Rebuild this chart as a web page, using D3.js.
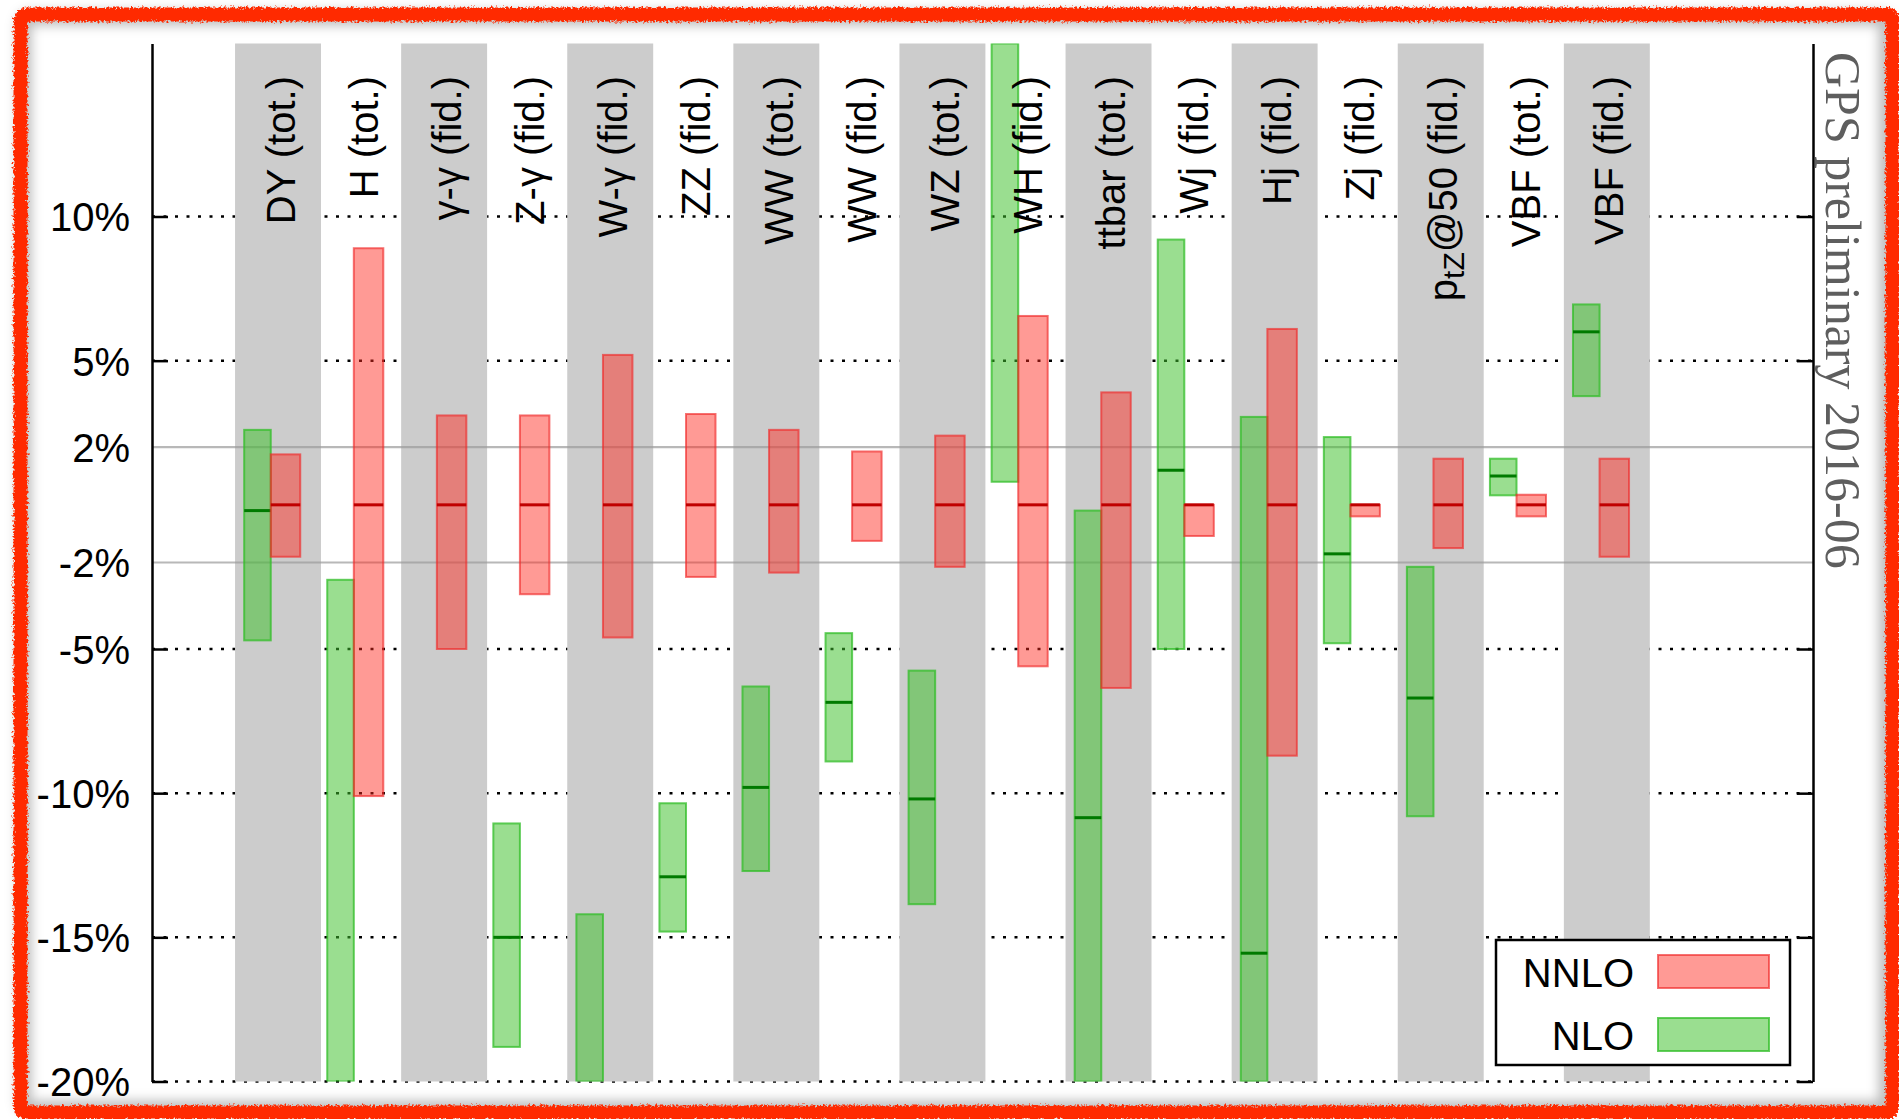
<!DOCTYPE html>
<html>
<head>
<meta charset="utf-8">
<script src="https://cdn.jsdelivr.net/npm/d3@7"></script>
<style>
  html, body { margin: 0; padding: 0; background: #ffffff; }
  svg { display: block; }
</style>
</head>
<body>
<script>
// Scale uncertainty of NLO and NNLO predictions, relative to the NNLO central value (%)
const categories = [
  "DY (tot.)", "H (tot.)", "γ-γ (fid.)", "Z-γ (fid.)", "W-γ (fid.)", "ZZ (fid.)",
  "WW (tot.)", "WW (fid.)", "WZ (tot.)", "WH (fid.)", "ttbar (tot.)", "Wj (fid.)",
  "Hj (fid.)", "Zj (fid.)", "p_{tZ}@50 (fid.)", "VBF (tot.)", "VBF (fid.)"
];

// NNLO band: lower edge, central value, upper edge
const nnloLow  = [-1.8, -10.1, -5.0, -3.1, -4.6, -2.5, -2.35, -1.25, -2.15, -5.6, -6.35, -1.08, -8.7, -0.4, -1.5, -0.4, -1.8];
const nnloMid  = [0, 0, 0, 0, 0, 0, 0, 0, 0, 0, 0, 0, 0, 0, 0, 0, 0];
const nnloHigh = [1.75, 8.9, 3.1, 3.1, 5.2, 3.15, 2.6, 1.85, 2.4, 6.55, 3.9, 0.0, 6.1, 0.0, 1.6, 0.35, 1.6];

// NLO band (null = off the plotted range); edges past the frame are shown at the frame
const nloLow  = [-4.7, -20, null, -18.8, -20, -14.8, -12.7, -8.9, -13.85, 0.8, -20, -5.0, -20, -4.8, -10.8, 0.33, 3.77];
const nloMid  = [-0.2, null, null, -15.0, null, -12.9, -9.8, -6.85, -10.2, null, -10.85, 1.2, -15.55, -1.7, -6.7, 1.0, 6.0];
const nloHigh = [2.6, -2.6, null, -11.05, -14.2, -10.35, -6.3, -4.45, -5.75, 16, -0.2, 9.2, 3.05, 2.35, -2.15, 1.6, 6.95];

const yTicks = [10, 5, 2, -2, -5, -10, -15, -20];
const dottedGrid = [10, 5, -5, -10, -15, -20];
const solidGrid = [2, -2];
const seriesNames = ["NNLO", "NLO"];
const stamp = "GPS preliminary 2016-06";

const W = 1899, H = 1119;
const SANS = "'Liberation Sans', Arial, Helvetica, sans-serif";
const SERIF = "'Liberation Serif', 'Times New Roman', serif";

const colors = {
  nnloFill: "rgba(255,40,30,0.47)",
  nnloStroke: "rgba(240,40,40,0.65)",
  nnloMid: "#c00000",
  nloFill: "rgba(64,193,46,0.53)",
  nloStroke: "rgba(50,190,40,0.75)",
  nloMid: "#007a00",
  band: "#cccccc"
};

const svg = d3.select("body").append("svg").attr("width", W).attr("height", H);
const defs = svg.append("defs");

const x = d3.scaleLinear().domain([0, 20]).range([152, 1813]);
const y = d3.scaleLinear().domain([-20, 16]).range([1081.5, 43.5]);
const cx = i => x(i + 1.5);

defs.append("clipPath").attr("id", "plotClip").append("rect")
  .attr("x", x(0)).attr("y", y(16))
  .attr("width", x(20) - x(0)).attr("height", y(-20) - y(16));

// rough frame filters
const rough = defs.append("filter").attr("id", "rough")
  .attr("x", "-2%").attr("y", "-2%").attr("width", "104%").attr("height", "104%");
rough.append("feTurbulence").attr("type", "fractalNoise").attr("baseFrequency", 0.45)
  .attr("numOctaves", 2).attr("seed", 7).attr("result", "noise");
rough.append("feDisplacementMap").attr("in", "SourceGraphic").attr("in2", "noise")
  .attr("scale", 7).attr("xChannelSelector", "R").attr("yChannelSelector", "G");
defs.append("filter").attr("id", "haze")
  .attr("x", "-5%").attr("y", "-5%").attr("width", "110%").attr("height", "110%")
  .append("feGaussianBlur").attr("stdDeviation", 6);

// dotted grid
const plot = svg.append("g");
plot.append("g").selectAll("line").data(dottedGrid).join("line")
  .attr("x1", x(0)).attr("x2", x(20))
  .attr("y1", d => y(d)).attr("y2", d => y(d))
  .attr("stroke", "#000").attr("stroke-width", 2.5)
  .attr("stroke-dasharray", "3,8.5");

// alternating category bands
plot.append("g").selectAll("rect").data(categories.map((c, i) => i).filter(i => i % 2 === 0)).join("rect")
  .attr("x", i => x(i + 1))
  .attr("width", x(1.035) - x(0))
  .attr("y", y(16)).attr("height", y(-20) - y(16))
  .attr("fill", colors.band);

// solid grid at +-2%
plot.append("g").selectAll("line").data(solidGrid).join("line")
  .attr("x1", x(0)).attr("x2", x(20))
  .attr("y1", d => y(d)).attr("y2", d => y(d))
  .attr("stroke", "#9a9a9a").attr("stroke-opacity", 0.7).attr("stroke-width", 2.2);

// bars
const bars = plot.append("g").attr("clip-path", "url(#plotClip)");
const nlo = categories.map((c, i) => ({ i, lo: nloLow[i], mid: nloMid[i], hi: nloHigh[i] }))
  .filter(d => d.lo !== null && d.hi !== null);
const nnlo = categories.map((c, i) => ({ i, lo: nnloLow[i], mid: nnloMid[i], hi: nnloHigh[i] }));

function drawSeries(data, off0, off1, fill, stroke, midColor) {
  const g = bars.append("g");
  g.selectAll("rect").data(data).join("rect")
    .attr("x", d => x(d.i + 1.5 + off0))
    .attr("width", x(off1 - off0) - x(0))
    .attr("y", d => y(d.hi))
    .attr("height", d => Math.max(y(d.lo) - y(d.hi), 1))
    .attr("fill", fill).attr("stroke", stroke).attr("stroke-width", 2);
  g.selectAll("line").data(data.filter(d => d.mid !== null)).join("line")
    .attr("x1", d => x(d.i + 1.5 + off0)).attr("x2", d => x(d.i + 1.5 + off1))
    .attr("y1", d => y(d.mid)).attr("y2", d => y(d.mid))
    .attr("stroke", midColor).attr("stroke-width", 3);
}
drawSeries(nlo, -0.39, -0.07, colors.nloFill, colors.nloStroke, colors.nloMid);
drawSeries(nnlo, -0.07, 0.285, colors.nnloFill, colors.nnloStroke, colors.nnloMid);

// axes
const fmt = d => d + "%";
const left = svg.append("g").attr("transform", `translate(${x(0)},0)`)
  .call(d3.axisLeft(y).tickValues(yTicks).tickFormat(fmt).tickSizeInner(-16).tickSizeOuter(0).tickPadding(22));
const right = svg.append("g").attr("transform", `translate(${x(20)},0)`)
  .call(d3.axisRight(y).tickValues(yTicks).tickFormat("").tickSizeInner(-16).tickSizeOuter(0));
[left, right].forEach(a => {
  a.select(".domain").attr("stroke", "#000").attr("stroke-width", 2.5);
  a.selectAll(".tick line").attr("stroke", "#000").attr("stroke-width", 2.5)
    .attr("stroke", d => solidGrid.includes(d) ? "none" : "#000");
  a.selectAll(".tick text").attr("font-family", SANS).attr("font-size", 40).attr("fill", "#000")
    .attr("dy", "0.36em");
});

// category labels, rotated
const labels = svg.append("g");
categories.forEach((c, i) => {
  const t = labels.append("text")
    .attr("transform", `translate(${cx(i) + 18},76) rotate(-90)`)
    .attr("text-anchor", "end")
    .attr("font-family", SANS).attr("font-size", 40).attr("fill", "#000");
  const parts = c.split(/(_\{[^}]*\})/).filter(p => p.length);
  parts.forEach(p => {
    if (p.startsWith("_{")) {
      t.append("tspan").text(p.slice(2, -1)).attr("font-size", 30).attr("dy", "0.22em");
    } else {
      const s = t.append("tspan").text(p);
      if (parts.indexOf(p) > 0 && parts[parts.indexOf(p) - 1].startsWith("_{")) s.attr("dy", "-0.17em");
    }
  });
});

// legend
const lg = svg.append("g");
lg.append("rect").attr("x", 1496).attr("y", 940).attr("width", 294).attr("height", 125)
  .attr("fill", "#fff").attr("stroke", "#000").attr("stroke-width", 2.5);
const legendItems = [
  { name: seriesNames[0], fill: colors.nnloFill, stroke: colors.nnloStroke, yTop: 955 },
  { name: seriesNames[1], fill: colors.nloFill, stroke: colors.nloStroke, yTop: 1018 }
];
legendItems.forEach(it => {
  lg.append("rect").attr("x", 1658).attr("y", it.yTop).attr("width", 111).attr("height", 33)
    .attr("fill", it.fill).attr("stroke", it.stroke).attr("stroke-width", 2);
  lg.append("text").attr("x", 1634).attr("y", it.yTop + 32)
    .attr("text-anchor", "end").attr("font-family", SANS).attr("font-size", 40).attr("fill", "#000")
    .text(it.name);
});

// stamp on the right
svg.append("text")
  .attr("transform", "translate(1826,52) rotate(90)")
  .attr("font-family", SERIF).attr("font-size", 50).attr("fill", "#5e5e5e")
  .text(stamp);

// hand-drawn red frame with soft shadow
svg.append("rect").attr("x", 24).attr("y", 18).attr("width", 1862).attr("height", 1090)
  .attr("rx", 6).attr("fill", "none").attr("stroke", "rgba(0,0,0,0.28)").attr("stroke-width", 14)
  .attr("filter", "url(#haze)");
svg.append("rect").attr("x", 20.5).attr("y", 14.5).attr("width", 1872).attr("height", 1098)
  .attr("rx", 6).attr("fill", "none").attr("stroke", "#ff2a00").attr("stroke-width", 14)
  .attr("filter", "url(#rough)");
</script>
</body>
</html>
